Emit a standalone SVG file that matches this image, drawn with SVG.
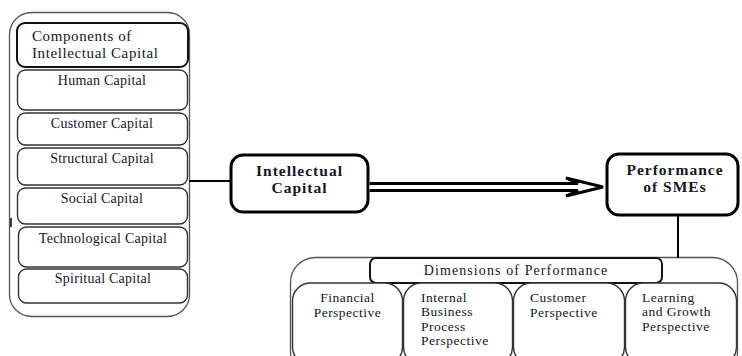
<svg xmlns="http://www.w3.org/2000/svg" width="742" height="356" viewBox="0 0 742 356">
<style>
.outer{fill:#fff;stroke:#555;stroke-width:1.3}
.box{fill:#fff;stroke:#333;stroke-width:1.4}
.hbox{fill:#fff;stroke:#111;stroke-width:2}
.key{fill:#fff;stroke:#000;stroke-width:3}
text{font-family:'Liberation Serif','Times New Roman',Times,serif;fill:#161628}
.item{font-size:14px;letter-spacing:0.25px;text-anchor:middle}
.hdr{font-size:15px;letter-spacing:0.6px}
.bold{font-size:15.5px;font-weight:bold;letter-spacing:1px;text-anchor:middle}
.dim{font-size:14px;letter-spacing:1.1px;text-anchor:middle}
.persp{font-size:13.5px;letter-spacing:0.5px}
.line{stroke:#000;stroke-width:2;fill:none}
</style>
<rect width="742" height="356" fill="#fff"/>
<g id="components">
<rect class="outer" x="9.5" y="12.5" width="180" height="304" rx="22"/>
<line x1="11" y1="218" x2="11" y2="227" stroke="#000" stroke-width="1.5"/>
<rect class="hbox" x="17" y="23" width="171" height="44" rx="8"/>
<text class="hdr" x="32" y="41" font-family="Liberation Serif, serif">Components of</text>
<text class="hdr" x="32" y="58" font-family="Liberation Serif, serif">Intellectual Capital</text>
</g>
<g id="human-capital"><rect class="box" x="17.5" y="70" width="170" height="40" rx="8"/><text class="item" x="102" y="85">Human Capital</text></g>
<g id="customer-capital"><rect class="box" x="17.5" y="113" width="170" height="32" rx="8"/><text class="item" x="102" y="128">Customer Capital</text></g>
<g id="structural-capital"><rect class="box" x="17.5" y="148" width="170" height="37" rx="8"/><text class="item" x="102" y="163">Structural Capital</text></g>
<g id="social-capital"><rect class="box" x="17.5" y="188" width="170" height="36" rx="8"/><text class="item" x="102" y="203">Social Capital</text></g>
<g id="technological-capital"><rect class="box" x="18.5" y="227" width="169" height="40" rx="8"/><text class="item" x="103" y="243">Technological Capital</text></g>
<g id="spiritual-capital"><rect class="box" x="18.5" y="269" width="169" height="34" rx="8"/><text class="item" x="103" y="283">Spiritual Capital</text></g>
<g id="intellectual-capital">
<rect class="key" x="231" y="155" width="137" height="57" rx="12"/>
<text class="bold" x="299.5" y="176">Intellectual</text>
<text class="bold" x="299.5" y="193">Capital</text>
</g>
<g id="performance">
<rect class="key" x="607" y="154" width="131" height="61" rx="12"/>
<text class="bold" x="675" y="175">Performance</text>
<text class="bold" x="675" y="192">of SMEs</text>
</g>
<g id="dimensions">
<rect class="outer" x="290.5" y="257.5" width="447" height="120" rx="25"/>
<rect class="hbox" x="370" y="258" width="292" height="25" rx="6"/>
<text class="dim" x="516" y="275">Dimensions of Performance</text>
</g>
<g id="financial"><rect class="box" x="292.5" y="283" width="110" height="82" rx="18"/>
<text class="persp" x="347.5" y="302" text-anchor="middle">Financial</text>
<text class="persp" x="347.5" y="317" text-anchor="middle">Perspective</text></g>
<g id="internal"><rect class="box" x="403.5" y="283" width="109" height="82" rx="18"/>
<text class="persp" x="421" y="302">Internal</text>
<text class="persp" x="421" y="316">Business</text>
<text class="persp" x="421" y="331">Process</text>
<text class="persp" x="421" y="345">Perspective</text></g>
<g id="customer"><rect class="box" x="513.5" y="283" width="111" height="82" rx="18"/>
<text class="persp" x="530" y="302">Customer</text>
<text class="persp" x="530" y="317">Perspective</text></g>
<g id="learning"><rect class="box" x="625.5" y="283" width="111" height="82" rx="18"/>
<text class="persp" x="642" y="302">Learning</text>
<text class="persp" x="642" y="316">and Growth</text>
<text class="persp" x="642" y="331">Perspective</text></g>
<g id="connectors">
<line class="line" x1="189" y1="181" x2="231" y2="181"/>
<path d="M369.5,183.5 H578 L566,178 L603,187 L566,196 L578,190.5 H369.5" fill="#fff" stroke="#000" stroke-width="3" stroke-linejoin="miter"/>
<line class="line" x1="678" y1="215" x2="678" y2="258"/>
</g>
</svg>
